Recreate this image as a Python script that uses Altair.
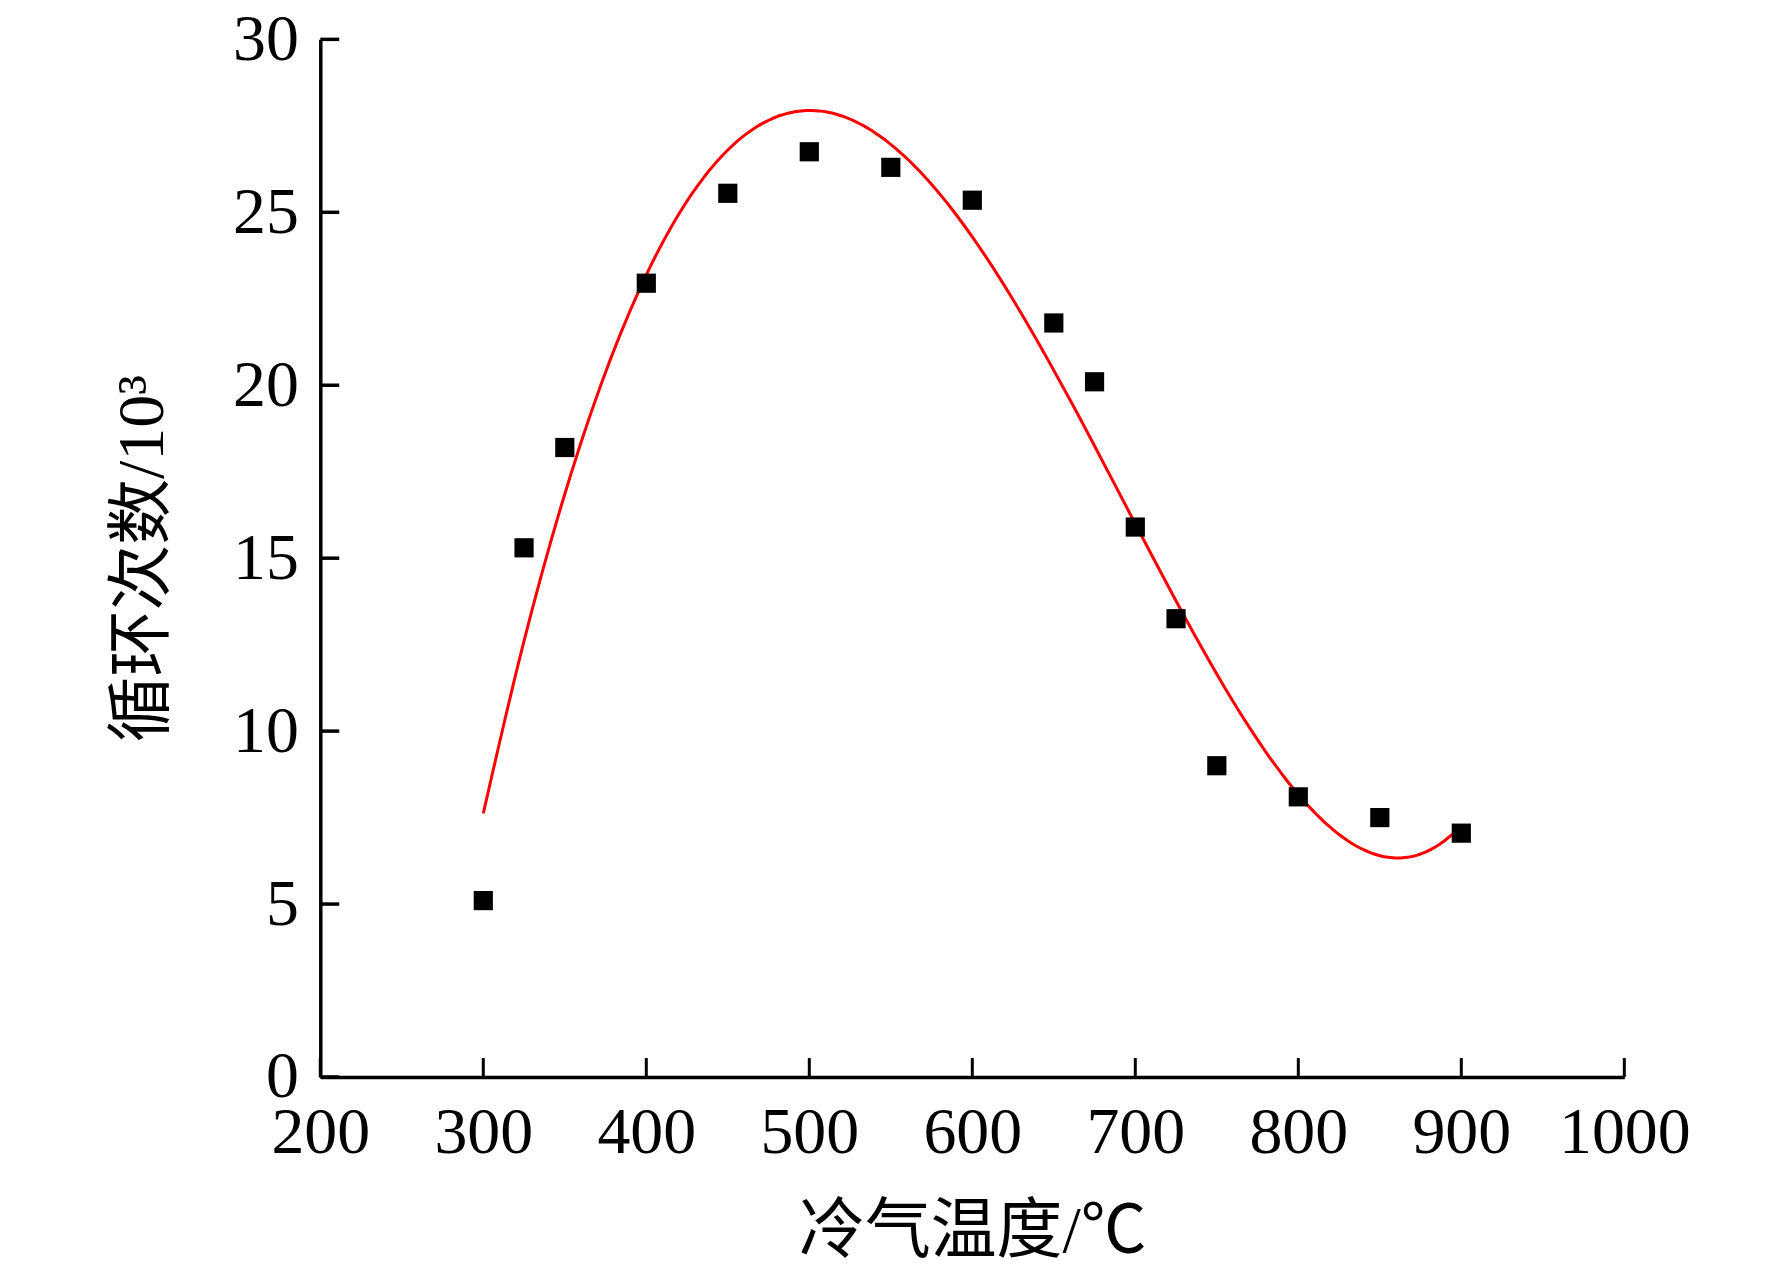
import altair as alt
import pandas as pd

temps = [300, 325, 350, 400, 450, 500, 550, 600, 650, 675, 700, 725, 750, 800, 850, 900]
cycles = [5.1, 15.3, 18.2, 22.95, 25.55, 26.75, 26.3, 25.35, 21.8, 20.1, 15.9, 13.25, 9.0, 8.1, 7.5, 7.05]
x_ticks = [200, 300, 400, 500, 600, 700, 800, 900, 1000]
y_ticks = [0, 5, 10, 15, 20, 25, 30]

df = pd.DataFrame({"t": temps, "n": cycles})
xt = pd.DataFrame({"v": x_ticks})
yt = pd.DataFrame({"v": y_ticks})

FONT = "Liberation Serif, Times New Roman, Noto Sans CJK SC"

xs = alt.Scale(domain=[200, 1000], nice=False, zero=False)
ys = alt.Scale(domain=[0, 30], nice=False)

xaxis = alt.Axis(values=x_ticks, format="d", ticks=False, grid=False, domainColor="black",
                 domainWidth=3.5, labelFont=FONT, labelFontSize=66, labelColor="black",
                 labelPadding=24, title="冷气温度/℃", titleFont=FONT, titleFontSize=66,
                 titleFontWeight="normal", titleColor="black", titlePadding=34,
                 labelFlush=False)
yaxis = alt.Axis(values=y_ticks, format="d", ticks=False, grid=False, domainColor="black",
                 domainWidth=3.5, labelFont=FONT, labelFontSize=66, labelColor="black",
                 labelPadding=22, title="循环次数/10³", titleFont=FONT, titleFontSize=66,
                 titleFontWeight="normal", titleColor="black", titlePadding=56,
                 labelFlush=False)

points = alt.Chart(df).mark_point(shape="square", filled=True, color="black",
                                  size=370, opacity=1).encode(
    x=alt.X("t:Q", scale=xs, axis=xaxis),
    y=alt.Y("n:Q", scale=ys, axis=yaxis),
)

fit = alt.Chart(df).transform_regression("t", "n", method="poly", order=4).mark_line(
    color="#ff0000", strokeWidth=3, interpolate="monotone").encode(
    x=alt.X("t:Q", scale=xs),
    y=alt.Y("n:Q", scale=ys),
)

xtick_marks = alt.Chart(xt).mark_rule(color="black", strokeWidth=3).encode(
    x=alt.X("v:Q", scale=xs),
    y=alt.value(1040),
    y2=alt.value(1021),
)
ytick_marks = alt.Chart(yt).mark_rule(color="black", strokeWidth=3.5).encode(
    y=alt.Y("v:Q", scale=ys),
    x=alt.value(0),
    x2=alt.value(19),
)

chart = alt.layer(fit, points, xtick_marks, ytick_marks).properties(
    width=1307, height=1040,
    autosize=alt.AutoSizeParams(type="none"),
    padding={"left": 313, "top": 30, "right": 140, "bottom": 190},
).configure(background="white").configure_view(stroke=None, strokeWidth=0)

chart.save("out.html", embed_options={"renderer": "svg", "actions": False})
